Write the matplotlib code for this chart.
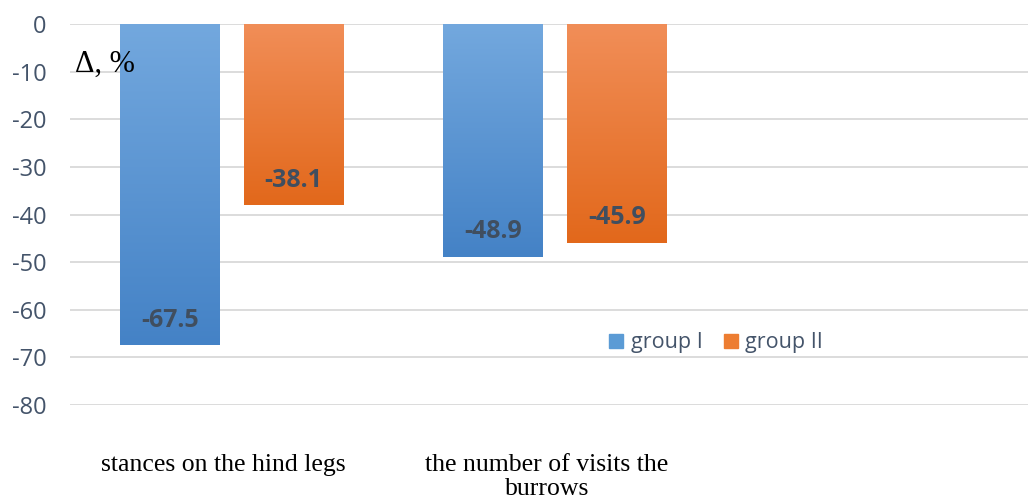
import numpy as np
import matplotlib
matplotlib.use("Agg")
import matplotlib.pyplot as plt
from matplotlib.colors import LinearSegmentedColormap
from matplotlib.transforms import ScaledTranslation

plt.rcParams["axes.unicode_minus"] = False

categories = ["stances on the hind legs", "the number of visits the\nburrows", ""]
group_1 = [-67.5, -48.9]
group_2 = [-38.1, -45.9]
series_names = ["group I", "group II"]

text_color = "#44546A"
blue_grad = ("#73A8DE", "#4482C6")
orange_grad = ("#F18E58", "#E2681B")

fig = plt.figure(figsize=(10.28, 5.01), dpi=100)
ax = fig.add_axes([70 / 1028, 0.1916, 970 / 1028, 0.7605])

x = np.arange(len(categories))
width = 0.307
offset = 0.192


def gradient_bars(xs, vals, colors, label):
    bars = ax.bar(xs, vals, width, facecolor="none", edgecolor="none",
                  label=label, zorder=3)
    cmap = LinearSegmentedColormap.from_list(label, colors)
    grad = np.linspace(0, 1, 256).reshape(-1, 1)
    for b in bars:
        x0, y0 = b.get_x(), b.get_y()
        w, h = b.get_width(), b.get_height()
        im = ax.imshow(grad, cmap=cmap, aspect="auto", zorder=3,
                       extent=[x0, x0 + w, y0 + h, y0], origin="upper")
        im.set_clip_path(b)
    for b, v in zip(bars, vals):
        ax.annotate(f"{v:.1f}", (b.get_x() + b.get_width() / 2, v),
                    xytext=(0, 13.5), textcoords="offset points",
                    ha="center", va="baseline", fontsize=18,
                    fontweight="bold", color="#404E5F", zorder=4,
                    family="Open Sans")
    return bars


b1 = gradient_bars(x[:2] - offset, group_1, blue_grad, series_names[0])
b2 = gradient_bars(x[:2] + offset, group_2, orange_grad, series_names[1])

ax.set_xlim(-0.5, 2.5)
ax.set_ylim(-80, 0)
ax.set_yticks(np.arange(-80, 1, 10))
ax.grid(axis="y", color="#D9D9D9", linewidth=1.3, zorder=0)
for s in ax.spines.values():
    s.set_visible(False)

ax.tick_params(axis="y", length=0, pad=17, labelsize=17,
               labelcolor=text_color)
for t in ax.get_yticklabels():
    t.set_family("Open Sans")

ax.set_xticks(x)
ax.set_xticklabels(categories, family="Liberation Serif", fontsize=18.5,
                   color="black", linespacing=1.12)
ax.tick_params(axis="x", length=0, pad=35)
shift = ScaledTranslation(-8 / 100, 0, fig.dpi_scale_trans)
for t in ax.get_xticklabels():
    t.set_transform(t.get_transform() + shift)

fig.text(75 / 1028, 1 - 72 / 501, "Δ, %", family="Liberation Serif",
         fontsize=22, color="black", va="baseline", ha="left")

handles = [plt.Rectangle((0, 0), 1, 1, color="#5B9BD5"),
           plt.Rectangle((0, 0), 1, 1, color="#ED7D31")]
leg = ax.legend(handles, series_names, loc="center",
                bbox_to_anchor=(0.666, 0.163), ncol=2, frameon=False,
                handlelength=0.65, handleheight=0.65, handletextpad=0.35,
                columnspacing=1.0, prop={"family": "Open Sans", "size": 15.5})
for t in leg.get_texts():
    t.set_color(text_color)

fig.savefig("out.png", dpi=100)
